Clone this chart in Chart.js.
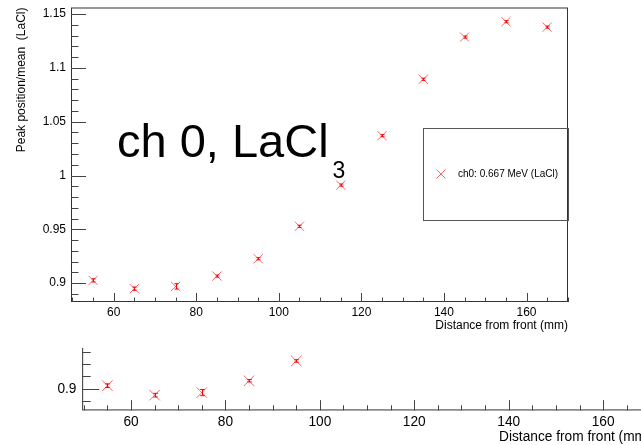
<!DOCTYPE html>
<html>
<head>
<meta charset="utf-8">
<title>Peak position vs distance</title>
<script src="https://cdn.jsdelivr.net/npm/chart.js@4.4.0/dist/chart.umd.min.js"></script>
<style>
  body { margin: 0; width: 641px; height: 445px; overflow: hidden; background: #fff; position: relative; }
  #mainChart { position: absolute; left: 0; top: 0; z-index: 2; background: #fff; }
  #copyChart { position: absolute; left: 1px; top: 65px; z-index: 1; }
</style>
</head>
<body>
<canvas id="copyChart" width="733" height="398"></canvas>
<canvas id="mainChart" width="641" height="348"></canvas>
<script>
// ch0 scan, peak position / mean vs distance
const distances = [55, 65, 75, 85, 95, 105, 115, 125, 135, 145, 155, 165];
const peakRatio = [0.9025, 0.8948, 0.8969, 0.9065, 0.9226, 0.9528, 0.9911, 1.0370, 1.0895, 1.1287, 1.1430, 1.1380];
const peakErr = [0.0015, 0.0015, 0.0025, 0.001, 0.001, 0.001, 0.001, 0.001, 0.001, 0.001, 0.001, 0.001];
const xTicks = [60, 80, 100, 120, 140, 160];
const yTicks = [0.9, 0.95, 1, 1.05, 1.1, 1.15];
const legendLabel = 'ch0: 0.667 MeV (LaCl)';

Chart.defaults.font.family = '"Liberation Sans", Arial, sans-serif';
Chart.defaults.color = '#000';

const markerColor = 'rgba(255,0,0,0.6)';

function drawCross(ctx, cx, cy, h) {
    ctx.beginPath();
    ctx.moveTo(cx - h, cy - h); ctx.lineTo(cx + h, cy + h);
    ctx.moveTo(cx - h, cy + h); ctx.lineTo(cx + h, cy - h);
    ctx.stroke();
}

// frame, inward ticks, error bars, label text and legend box
const rootStyle = {
    id: 'rootStyle',
    afterDatasetsDraw(chart, args, opts) {
        const s = opts.s;
        const ctx = chart.ctx;
        const a = chart.chartArea;
        const x = chart.scales.x, y = chart.scales.y;
        ctx.save();

        // error bars
        ctx.strokeStyle = '#f00';
        ctx.lineWidth = 1;
        ctx.beginPath();
        for (let i = 0; i < distances.length; i++) {
            const px = Math.round(x.getPixelForValue(distances[i])) + 0.5;
            const lo = y.getPixelForValue(peakRatio[i] - peakErr[i]);
            const hi = y.getPixelForValue(peakRatio[i] + peakErr[i]);
            ctx.moveTo(px, lo); ctx.lineTo(px, hi);
            ctx.moveTo(px - 2 * s, lo); ctx.lineTo(px + 2 * s, lo);
            ctx.moveTo(px - 2 * s, hi); ctx.lineTo(px + 2 * s, hi);
        }
        ctx.stroke();

        // frame
        ctx.strokeStyle = '#333';
        ctx.strokeRect(a.left + 0.5, a.top + 0.5, a.right - a.left - 1, a.bottom - a.top - 1);

        // ticks pointing into the frame
        ctx.strokeStyle = '#444';
        ctx.beginPath();
        for (let v = 50; v <= 170; v += 5) {
            if (v < x.min || v > x.max) continue;
            const px = Math.round(x.getPixelForValue(v)) + 0.5;
            const len = (v % 20 === 0 ? 9 : 4.5) * s;
            ctx.moveTo(px, a.bottom); ctx.lineTo(px, a.bottom - len);
        }
        for (let i = 88; i <= 116; i++) {
            const v = i / 100;
            if (v < y.min || v > y.max) continue;
            const py = Math.round(y.getPixelForValue(v)) + 0.5;
            const len = (i % 5 === 0 ? 15 : 7.5) * s;
            ctx.moveTo(a.left, py); ctx.lineTo(a.left + len, py);
        }
        ctx.stroke();

        // ch 0, LaCl3 label
        ctx.fillStyle = '#000';
        ctx.textBaseline = 'alphabetic';
        ctx.textAlign = 'left';
        ctx.font = (47 * s) + 'px "Liberation Sans", Arial, sans-serif';
        const main = 'ch 0, LaCl';
        ctx.fillText(main, 117 * s, 157 * s);
        const w = ctx.measureText(main).width;
        ctx.font = (23 * s) + 'px "Liberation Sans", Arial, sans-serif';
        ctx.fillText('3', 117 * s + w + 4 * s, 178 * s);

        // legend
        ctx.strokeStyle = '#555';
        ctx.strokeRect(Math.round(423 * s) + 0.5, Math.round(128 * s) + 0.5,
            Math.round(145 * s), Math.round(92 * s));
        ctx.strokeStyle = markerColor;
        drawCross(ctx, 441 * s, 174 * s, 4.5 * s);
        ctx.font = (10 * s) + 'px "Liberation Sans", Arial, sans-serif';
        ctx.textBaseline = 'middle';
        ctx.fillText(legendLabel, 458 * s, 174 * s);
        ctx.restore();
    }
};

function makeChart(id, s) {
    const canvas = document.getElementById(id);
    const fs = 12 * s;
    return new Chart(canvas, {
        type: 'scatter',
        data: {
            datasets: [{
                label: legendLabel,
                data: distances.map((d, i) => ({ x: d, y: peakRatio[i] })),
                pointStyle: 'crossRot',
                pointRadius: 6.5 * s,
                borderColor: markerColor,
                backgroundColor: markerColor,
                borderWidth: 1,
                showLine: false
            }]
        },
        options: {
            responsive: false,
            animation: false,
            events: [],
            layout: { padding: { left: 0, top: 6 * s, right: 73 * s, bottom: 0 } },
            plugins: {
                legend: { display: false },
                tooltip: { enabled: false },
                rootStyle: { s: s }
            },
            scales: {
                x: {
                    type: 'linear',
                    min: 49.65,
                    max: 170.05,
                    grid: { display: false, drawTicks: false },
                    border: { display: false },
                    afterBuildTicks: (scale) => { scale.ticks = xTicks.map(v => ({ value: v })); },
                    afterFit: (scale) => {
                        scale.height = 46 * s;
                        scale.paddingLeft = 0;
                        scale.paddingRight = 0;
                    },
                    ticks: { font: { size: fs }, padding: 3 * s, maxRotation: 0, autoSkip: false },
                    title: {
                        display: true,
                        text: 'Distance from front (mm)',
                        align: 'end',
                        font: { size: fs },
                        padding: { top: 0, bottom: 15 * s }
                    }
                },
                y: {
                    type: 'linear',
                    min: 0.8824,
                    max: 1.1562,
                    grid: { display: false, drawTicks: false },
                    border: { display: false },
                    afterBuildTicks: (scale) => { scale.ticks = yTicks.map(v => ({ value: v })); },
                    afterFit: (scale) => {
                        scale.width = 71 * s;
                        scale.paddingTop = 0;
                        scale.paddingBottom = 0;
                    },
                    ticks: {
                        font: { size: fs },
                        padding: 5 * s,
                        autoSkip: false,
                        callback: (v) => String(+v.toFixed(2))
                    },
                    title: {
                        display: true,
                        text: 'Peak position/mean  (LaCl)',
                        align: 'end',
                        font: { size: fs },
                        padding: { top: 14 * s, bottom: 0 }
                    }
                }
            }
        },
        plugins: [rootStyle]
    });
}

window.onload = function() {
    makeChart('copyChart', 8 / 7);
    makeChart('mainChart', 1);
};
</script>
</body>
</html>
